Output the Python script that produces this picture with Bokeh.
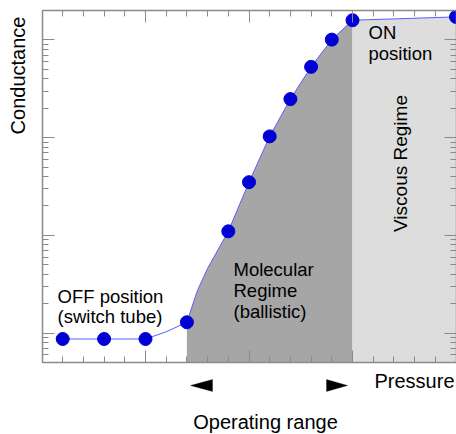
import math
from bokeh.plotting import figure
from bokeh.models import Label, PolyAnnotation, LogAxis, LinearAxis, FixedTicker, Range1d
from bokeh.embed import file_html
from bokeh.resources import INLINE

# ---- data ----
point_x = [0.2, 0.6, 1.0, 1.4, 1.8, 2.0, 2.2, 2.4, 2.6, 2.8, 3.0, 4.0]
point_y = [0.87, 0.87, 0.87, 1.29, 11.0, 35, 103, 248, 530, 1007, 1590, 1720]

curve_x = [0.2, 0.6, 1.0, 1.2, 1.4, 1.5, 1.6, 1.8, 2.0, 2.2, 2.4, 2.6, 2.8, 3.0, 4.0]
curve_y = [0.87, 0.87, 0.87, 1.03, 1.29, 2.7, 4.6, 11.0, 35, 103, 248, 530, 1007, 1590, 1720]

molecular_start, viscous_start = 1.4, 3.0
x_bounds = (0, 4)
y_bounds = (0.5, 2000)

x_major = [0, 1, 2, 3, 4]
x_minor = [0.2, 0.4, 0.6, 0.8, 1.2, 1.4, 1.6, 1.8, 2.2, 2.4, 2.6, 2.8, 3.2, 3.4, 3.6, 3.8]
y_major = [1, 10, 100, 1000]
y_minor = [m * d for d in [0.1, 1, 10, 100, 1000] for m in range(2, 10) if 0.5 <= m * d <= 2000]

FONT = "Liberation Sans"
GRAY = "#8a8a8a"

# ---- geometry: box position on the 456x434 canvas ----
W, H = 456, 434
BOX_L, BOX_R, BOX_T, BOX_B = 41.5, 455.5, 10.0, 362.0
px_per_x = (BOX_R - BOX_L) / (x_bounds[1] - x_bounds[0])
x0 = x_bounds[0] - BOX_L / px_per_x
x1 = x_bounds[1] + (W - BOX_R) / px_per_x
dec_per_px = (math.log10(y_bounds[1]) - math.log10(y_bounds[0])) / (BOX_B - BOX_T)
y0 = 10 ** (math.log10(y_bounds[0]) - (H - BOX_B) * dec_per_px)
y1 = 10 ** (math.log10(y_bounds[1]) + BOX_T * dec_per_px)

p = figure(width=W, height=H, x_range=Range1d(x0, x1), y_range=Range1d(y0, y1),
           y_axis_type="log", x_axis_location=None, y_axis_location=None,
           output_backend="svg", toolbar_location=None, min_border=0)
p.grid.visible = False
p.outline_line_color = None
p.background_fill_color = "white"
p.border_fill_color = "white"

bottom = LinearAxis(fixed_location=y_bounds[0], bounds=x_bounds)
top = LinearAxis(fixed_location=y_bounds[1], bounds=x_bounds)
left = LogAxis(fixed_location=x_bounds[0], bounds=y_bounds)
right = LogAxis(fixed_location=x_bounds[1], bounds=y_bounds)
p.add_layout(bottom, "below")
p.add_layout(top, "above")
p.add_layout(left, "left")
p.add_layout(right, "right")

for ax in [bottom, top]:
    ax.ticker = FixedTicker(ticks=x_major, minor_ticks=x_minor)
for ax in [left, right]:
    ax.ticker = FixedTicker(ticks=y_major, minor_ticks=y_minor)

for ax in [bottom, top, left, right]:
    ax.major_label_text_font_size = "0px"
    ax.major_label_text_alpha = 0
    ax.major_label_standoff = 0
    ax.axis_label = None
    ax.axis_line_color = GRAY
    ax.axis_line_width = 1.5
    ax.major_tick_line_color = GRAY
    ax.minor_tick_line_color = GRAY
    ax.major_tick_in = 12
    ax.major_tick_out = 0
    ax.minor_tick_in = 6
    ax.minor_tick_out = 0

# shaded regimes
i0 = curve_x.index(molecular_start)
i1 = curve_x.index(viscous_start)
n = len(curve_x)
p.varea(x=curve_x[i0:i1 + 1], y1=[y_bounds[0]] * (i1 - i0 + 1), y2=curve_y[i0:i1 + 1],
        fill_color="#a6a6a6")
p.varea(x=curve_x[i1:], y1=[y_bounds[0]] * (n - i1), y2=curve_y[i1:],
        fill_color="#dcdddc")

p.line(curve_x, curve_y, line_color="#5c5cff", line_width=1)
p.scatter(point_x, point_y, size=13, fill_color="#0000d4", line_color="#0000d4")

def lab(text, cx, cy, size, align="left", angle=0.0):
    shift = 0.35 * size  # compensate Bokeh's baseline placement
    if angle:
        cx -= shift
    else:
        cy -= shift
    p.add_layout(Label(x=cx, y=H - cy, x_units="screen", y_units="screen", text=text,
                       text_font=FONT, text_font_size=f"{size}px", text_color="black",
                       text_align=align, text_baseline="alphabetic", angle=angle))

lab("Conductance", 24, 75, 20, align="center", angle=math.pi / 2)
lab("Pressure", 374, 387, 20)
lab("Operating range", 265, 428, 20, align="center")
lab("OFF position", 57, 302, 18.5)
lab("(switch tube)", 57, 322.5, 18.5)
lab("Molecular", 233, 275.7, 18.5)
lab("Regime", 233, 296.3, 18.5)
lab("(ballistic)", 233, 317, 18.5)
lab("ON", 368, 38.3, 18.5)
lab("position", 368, 59.5, 18.5)
lab("Viscous Regime", 407, 163, 19, align="center", angle=math.pi / 2)

for xs in ([190, 212, 212], [347, 326, 326]):
    ys = [385, 379, 391]
    p.add_layout(PolyAnnotation(xs=xs, ys=[H - y for y in ys],
                                xs_units="screen", ys_units="screen",
                                fill_color="black", fill_alpha=1, line_color="black"))

open("out.html", "w").write(file_html(p, INLINE))
